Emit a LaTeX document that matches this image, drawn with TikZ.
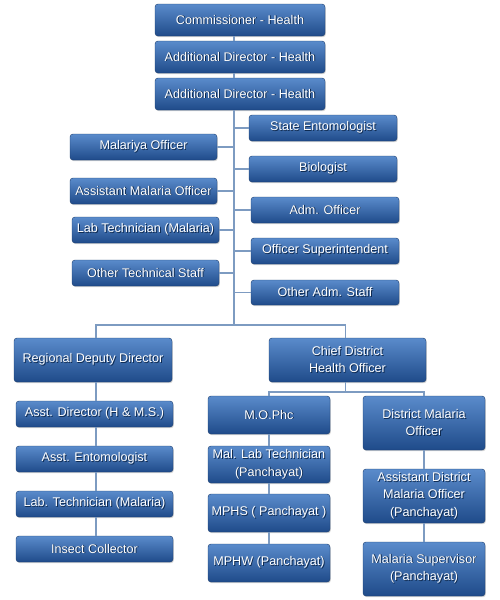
\documentclass[tikz,border=0pt]{standalone}
\usepackage{fontspec}
\setmainfont{Liberation Sans}
\usetikzlibrary{shadows}
\definecolor{boxtop}{HTML}{5A8BCB}
\definecolor{boxbot}{HTML}{1F4B8A}
\definecolor{linec}{HTML}{7D9BC1}
\definecolor{txtsh}{HTML}{0E2A50}
\newcommand\sh[1]{\leavevmode\rlap{\kern0.9pt\raisebox{-0.9pt}{\textcolor{txtsh}{#1}}}#1}
\begin{document}
\begin{tikzpicture}[x=1pt,y=-1pt,
  box/.style={rectangle, rounded corners=3pt, top color=boxtop, bottom color=boxbot,
    draw=boxbot!80!black, line width=0.4pt, text=white, align=center, inner sep=1pt,
    font=\fontsize{12.6}{17.5}\selectfont,
    drop shadow={shadow xshift=0.8pt, shadow yshift=-1.2pt, opacity=0.35, fill=gray}},
  conn/.style={draw=linec, line width=1.2pt}]
\useasboundingbox (0,0) rectangle (500,600);
\coordinate (bus) at (234,325);
\coordinate (sub) at (345.5,392);
\coordinate (lcol) at (96,0);
% top chain
\node[box, minimum width=170pt, minimum height=32pt] (comm) at (240,20) {\sh{Commissioner - Health}};
\node[box, minimum width=170pt, minimum height=32pt] (ad1) at (240,57) {\sh{Additional Director - Health}};
\node[box, minimum width=170pt, minimum height=32pt] (ad2) at (240,94) {\sh{Additional Director - Health}};
% left side
\node[box, minimum width=147pt, minimum height=26pt] (mo) at (143.5,147) {\sh{Malariya Officer}};
\node[box, minimum width=147pt, minimum height=26pt] (amo) at (143.5,191) {\sh{Assistant Malaria Officer}};
\node[box, minimum width=147pt, minimum height=26pt] (lt) at (145.5,230) {\sh{Lab Technician (Malaria)}};
\node[box, minimum width=147pt, minimum height=26pt] (ots) at (145.5,273) {\sh{Other Technical Staff}};
% right side
\node[box, minimum width=148pt, minimum height=26pt] (se) at (323,128) {\sh{State Entomologist}};
\node[box, minimum width=148pt, minimum height=26pt] (bio) at (323,169) {\sh{Biologist}};
\node[box, minimum width=148pt, minimum height=26pt] (ao) at (325,210) {\sh{Adm. Officer}};
\node[box, minimum width=148pt, minimum height=26pt] (os) at (325,251) {\sh{Officer Superintendent}};
\node[box, minimum width=148pt, minimum height=25pt] (oas) at (325,292.5) {\sh{Other Adm. Staff}};
% second level
\node[box, minimum width=158pt, minimum height=44pt] (rdd) at (93,360) {\sh{Regional Deputy Director}};
\node[box, minimum width=157pt, minimum height=44pt] (cdho) at (347.5,360) {\sh{Chief District}\\\sh{Health Officer}};
% left column
\node[box, minimum width=157pt, minimum height=26pt] (adir) at (94.5,414) {\sh{Asst. Director (H \& M.S.)}};
\node[box, minimum width=157pt, minimum height=26pt] (ae) at (94.5,459) {\sh{Asst. Entomologist}};
\node[box, minimum width=157pt, minimum height=26pt] (lab) at (94.5,504) {\sh{Lab. Technician (Malaria)}};
\node[box, minimum width=157pt, minimum height=26pt] (ic) at (94.5,549) {\sh{Insect Collector}};
% middle column
\node[box, minimum width=122pt, minimum height=38pt] (moph) at (269,415) {\sh{M.O.Phc}};
\node[box, minimum width=122pt, minimum height=37pt] (mlt) at (269,464.5) {\sh{Mal. Lab Technician}\\\sh{(Panchayat)}};
\node[box, minimum width=122pt, minimum height=38pt] (mphs) at (269,513) {\sh{MPHS ( Panchayat )}};
\node[box, minimum width=122pt, minimum height=38pt] (mphw) at (269,563) {\sh{MPHW (Panchayat)}};
% right column
\node[box, minimum width=122pt, minimum height=54pt] (dmo) at (424,423) {\sh{District Malaria}\\\sh{Officer}};
\node[box, minimum width=122pt, minimum height=54pt] (adm) at (424,496) {\sh{Assistant District}\\\sh{Malaria Officer}\\\sh{(Panchayat)}};
\node[box, minimum width=122pt, minimum height=54pt] (ms) at (424,569) {\sh{Malaria Supervisor}\\\sh{(Panchayat)}};
% connectors
\draw[conn] (comm.south -| bus) -- (ad1.north -| bus);
\draw[conn] (ad1.south -| bus) -- (ad2.north -| bus);
\draw[conn] (ad2.south -| bus) -- (bus);
\foreach \n in {mo,amo,lt,ots} \draw[conn] (\n.east) -- (\n.east -| bus);
\foreach \n in {se,bio,ao,os,oas} \draw[conn] (\n.west) -- (\n.west -| bus);
\draw[conn] (rdd.north -| lcol) |- (bus) -| (cdho.north -| sub);
\draw[conn] (rdd.south -| lcol) -- (adir.north -| lcol);
\draw[conn] (adir.south -| lcol) -- (ae.north -| lcol);
\draw[conn] (ae.south -| lcol) -- (lab.north -| lcol);
\draw[conn] (lab.south -| lcol) -- (ic.north -| lcol);
\draw[conn] (cdho.south -| sub) -- (sub);
\draw[conn] (moph.north) |- (sub) -| (dmo.north);
\draw[conn] (moph.south) -- (mlt.north);
\draw[conn] (mlt.south) -- (mphs.north);
\draw[conn] (mphs.south) -- (mphw.north);
\draw[conn] (dmo.south) -- (adm.north);
\draw[conn] (adm.south) -- (ms.north);
\end{tikzpicture}
\end{document}
